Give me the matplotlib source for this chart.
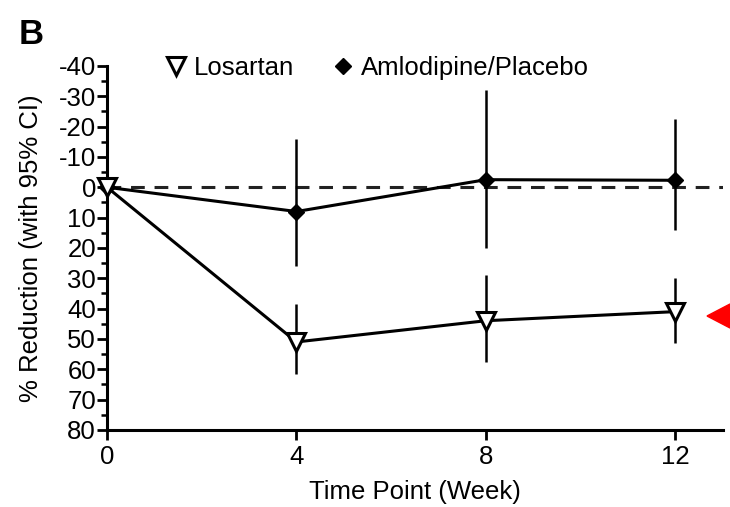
import matplotlib
matplotlib.use("Agg")
import matplotlib.pyplot as plt
from matplotlib.patches import Polygon
from matplotlib.ticker import MultipleLocator
from matplotlib.lines import Line2D

plt.rcParams['font.family'] = ['Liberation Sans', 'DejaVu Sans']

weeks = [0, 4, 8, 12]
losartan = [0, 51, 44, 41]
losartan_lo = [0, 38.5, 29, 30]
losartan_hi = [0, 61.5, 57.5, 51.5]
amlo = [0, 8, -2.5, -2.3]
amlo_lo = [0, -16, -32, -22.5]
amlo_hi = [0, 26, 20, 14]

yticks = [-40, -30, -20, -10, 0, 10, 20, 30, 40, 50, 60, 70, 80]
xticks = [0, 4, 8, 12]

FS = 18.5

fig = plt.figure(figsize=(7.3, 5.07), dpi=100)
ax = fig.add_axes([0.1466, 0.152, 0.8434, 0.718])

ax.axhline(0, color='#222222', lw=2.2, ls=(0, (4.5, 3.2)), zorder=1)

def err(vals, lo, hi):
    return [[v - l for v, l in zip(vals, lo)], [h - v for v, h in zip(vals, hi)]]

ax.errorbar(weeks, amlo, yerr=err(amlo, amlo_lo, amlo_hi), color='black', lw=2.2,
            elinewidth=1.8, capsize=0, marker='D', ms=8.5, mfc='black', mec='black',
            label='Amlodipine/Placebo', zorder=3, clip_on=False)
ax.errorbar(weeks, losartan, yerr=err(losartan, losartan_lo, losartan_hi), color='black', lw=2.2,
            elinewidth=1.8, capsize=0, marker='v', ms=13, mfc='white', mec='black', mew=2.2,
            label='Losartan', zorder=4, clip_on=False)

ax.set_xlim(0, 13)
ax.set_ylim(80, -40)
ax.set_yticks(yticks)
ax.set_yticklabels([str(t) for t in yticks])
ax.yaxis.set_minor_locator(MultipleLocator(5))
ax.set_xticks(xticks)

for s in ['top', 'right']:
    ax.spines[s].set_visible(False)
for s in ['left', 'bottom']:
    ax.spines[s].set_linewidth(2.2)
ax.tick_params(axis='both', which='major', direction='out', length=7, width=2, labelsize=FS, pad=1)
ax.tick_params(axis='y', which='minor', direction='out', length=4, width=1.8)
ax.tick_params(axis='x', pad=4)

ax.set_xlabel('Time Point (Week)', fontsize=FS, labelpad=8)
ax.set_ylabel('% Reduction (with 95% CI)', fontsize=FS, labelpad=11)

hl = [Line2D([], [], ls='none', marker='v', ms=13, mfc='white', mec='black', mew=2.2),
      Line2D([], [], ls='none', marker='D', ms=8, mfc='black', mec='black')]
ax.legend(hl, ['Losartan', 'Amlodipine/Placebo'], loc='upper left', bbox_to_anchor=(0.075, 1.055),
          ncol=2, frameon=False, fontsize=FS, handletextpad=0.2, columnspacing=1.4,
          handlelength=1.0, borderaxespad=0)

fig.text(0.025, 0.965, 'B', fontsize=25, fontweight='bold', va='top', ha='left')

tri = Polygon([[707/730, 1 - 316/507], [730/730, 1 - 304/507], [730/730, 1 - 328/507]],
              closed=True, transform=fig.transFigure, color='#ff0000', clip_on=False)
fig.patches.append(tri)

fig.savefig('out.png', dpi=100)
